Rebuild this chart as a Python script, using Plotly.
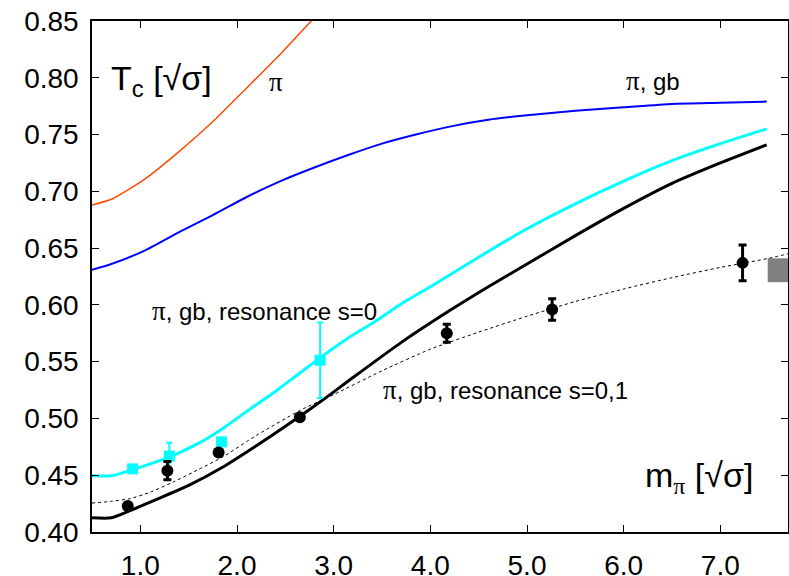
import plotly.graph_objects as go

# Model curves: T_c versus m_pi (both in units of sqrt(sigma))
pi_x = [0.5, 0.7, 1.05, 1.4, 1.77, 2.1, 2.45, 2.8]
pi_y = [0.688, 0.693, 0.711, 0.735, 0.763, 0.791, 0.821, 0.853]

gb_x = [0.5, 0.7, 1.05, 1.4, 1.75, 2.1, 2.45, 2.8, 3.15, 3.5, 3.85, 4.2, 4.6,
        5.0, 5.5, 6.0, 6.5, 7.0, 7.48]
gb_y = [0.631, 0.636, 0.648, 0.664, 0.679, 0.695, 0.709, 0.721, 0.732, 0.742,
        0.750, 0.757, 0.763, 0.767, 0.771, 0.774, 0.777, 0.778, 0.779]

res0_x = [0.5, 0.7, 0.92, 1.3, 1.6, 1.85, 2.13, 2.4, 2.65, 2.9, 3.17, 3.45,
          3.7, 4.0, 4.5, 5.0, 5.5, 6.0, 6.5, 7.0, 7.48]
res0_y = [0.4495, 0.4495, 0.455, 0.466, 0.478, 0.491, 0.508, 0.524, 0.540,
          0.556, 0.572, 0.5865, 0.601, 0.616, 0.642, 0.667, 0.689, 0.709,
          0.727, 0.742, 0.755]

res01_x = [0.5, 0.7, 0.9, 1.15, 1.5, 1.85, 2.2, 2.55, 2.9, 3.2, 3.7, 4.2,
           4.6, 5.0, 5.5, 6.0, 6.5, 7.0, 7.48]
res01_y = [0.4125, 0.4125, 0.419, 0.428, 0.441, 0.457, 0.476, 0.496, 0.517,
           0.536, 0.567, 0.595, 0.616, 0.636, 0.661, 0.685, 0.707, 0.725,
           0.741]

# Fit through the lattice points
fit_x = [0.5, 0.7, 0.9, 1.1, 1.34, 1.6, 1.85, 2.2, 2.65, 3.0, 3.5, 4.0, 4.5,
         5.0, 5.5, 6.0, 6.5, 7.0, 7.5, 7.7]
fit_y = [0.4255, 0.427, 0.4295, 0.435, 0.444, 0.455, 0.466, 0.485, 0.507,
         0.521, 0.542, 0.561, 0.576, 0.590, 0.603, 0.614, 0.624, 0.633,
         0.641, 0.645]

# Lattice data
lat_x = [0.87, 1.28, 1.81, 2.65, 4.17, 5.26, 7.23]
lat_y = [0.4228, 0.454, 0.470, 0.501, 0.575, 0.596, 0.637]
lat_err = [0.0, 0.008, 0.0, 0.0, 0.008, 0.0095, 0.0157]

res_pts_x = [0.92, 1.30, 1.84, 2.86]
res_pts_y = [0.4556, 0.4668, 0.4794, 0.5513]
res_pts_err = [0.0, 0.0117, 0.0, 0.0333]

# Continuum value band at large m_pi
cont_x = [7.49, 7.75]
cont_y = [0.6305]
cont_err = [0.0105]

FONT = "Liberation Sans, Arial, Helvetica, sans-serif"
PI = '<span style="font-family:Liberation Serif;font-size:27px">π</span>'
PI_SUB = '<span style="font-family:Liberation Serif">π</span>'

fig = go.Figure()

fig.add_trace(go.Scatter(
    x=[cont_x[0], cont_x[1], cont_x[1], cont_x[0], cont_x[0]],
    y=[cont_y[0] - cont_err[0], cont_y[0] - cont_err[0],
       cont_y[0] + cont_err[0], cont_y[0] + cont_err[0],
       cont_y[0] - cont_err[0]],
    mode="lines", fill="toself", fillcolor="#808080",
    line=dict(width=0, color="#808080"), hoverinfo="skip"))

curve = dict(mode="lines", line_shape="spline", line_smoothing=0.6)
fig.add_trace(go.Scatter(x=fit_x, y=fit_y,
                         line=dict(color="black", width=1, dash="dot"), **curve))
fig.add_trace(go.Scatter(x=pi_x, y=pi_y,
                         line=dict(color="#ff4a00", width=1.5), **curve))
fig.add_trace(go.Scatter(x=gb_x, y=gb_y,
                         line=dict(color="#0000ff", width=2), **curve))
fig.add_trace(go.Scatter(x=res0_x, y=res0_y,
                         line=dict(color="#00ffff", width=3), **curve))
fig.add_trace(go.Scatter(x=res01_x, y=res01_y,
                         line=dict(color="black", width=3), **curve))

fig.add_trace(go.Scatter(
    x=res_pts_x, y=res_pts_y, mode="markers",
    marker=dict(symbol="square", size=11, color="#00ffff"),
    error_y=dict(type="data", array=res_pts_err, color="#00ffff",
                 thickness=2, width=3)))
fig.add_trace(go.Scatter(
    x=lat_x, y=lat_y, mode="markers",
    marker=dict(symbol="circle", size=12, color="black"),
    error_y=dict(type="data", array=lat_err, color="black",
                 thickness=3, width=4)))

ann = dict(showarrow=False, xanchor="left", yanchor="middle",
           font=dict(family=FONT, size=24, color="black"))
big = dict(family=FONT, size=34, color="black")
fig.add_annotation(x=0.68, y=0.798, text="T<sub>c</sub> [√σ]",
                   **{**ann, "font": big})
fig.add_annotation(x=2.31, y=0.796, text=PI, **ann)
fig.add_annotation(x=6.0, y=0.797, text=PI + ", gb", **ann)
fig.add_annotation(x=1.10, y=0.595, text=PI + ", gb, resonance s=0", **ann)
fig.add_annotation(x=3.49, y=0.525, text=PI + ", gb, resonance s=0,1", **ann)
fig.add_annotation(x=6.20, y=0.448,
                   text="m<sub>" + PI_SUB + "</sub> [√σ]",
                   **{**ann, "font": big})

axis_common = dict(showline=True, linecolor="black", linewidth=1.5,
                   mirror="allticks", ticks="inside", ticklen=7,
                   tickcolor="black", tickwidth=1.2, showgrid=False,
                   zeroline=False, automargin=False,
                   tickfont=dict(family=FONT, size=28, color="black"))

fig.update_xaxes(range=[0.5, 7.7], tickvals=[1, 2, 3, 4, 5, 6, 7],
                 tickformat=".1f", ticklabelstandoff=8, **axis_common)
fig.update_yaxes(range=[0.40, 0.85], dtick=0.05, tick0=0.40,
                 tickformat=".2f", ticklabelstandoff=6, **axis_common)

fig.update_layout(width=789, height=576, showlegend=False,
                  margin=dict(l=92, r=1, t=21, b=44),
                  plot_bgcolor="white", paper_bgcolor="white")

fig.write_html("out.html")
